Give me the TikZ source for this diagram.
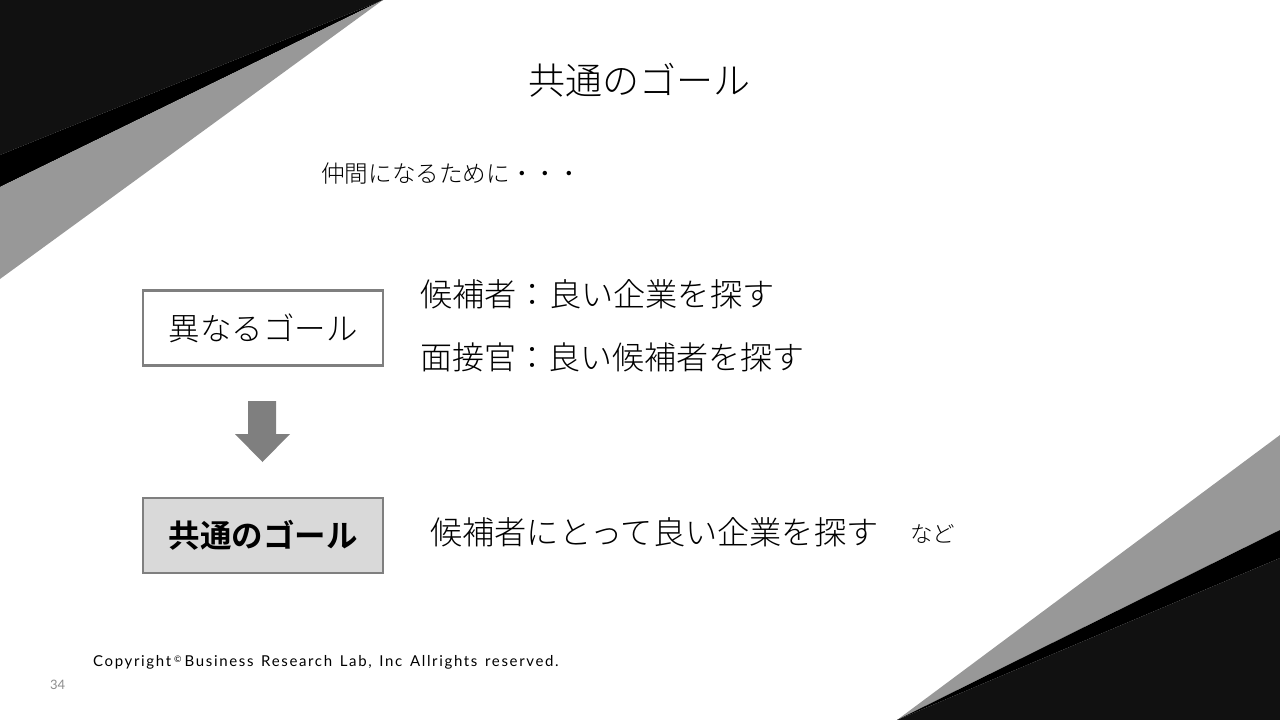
\documentclass[tikz,border=0pt]{standalone}
\usepackage{fontspec}
\IfFontExistsTF{Noto Sans CJK JP Light}
  {\setmainfont{Noto Sans CJK JP Light}[BoldFont={Noto Sans CJK JP Bold}]}
  {\setmainfont{Noto Sans CJK JP}[BoldFont={Noto Sans CJK JP Bold}]}
\newfontfamily\latinf{Lato}
\newfontfamily\copyf{Lato}[LetterSpace=11,WordSpace=1.4]
\definecolor{darkbg}{HTML}{111111}
\definecolor{midgray}{HTML}{989898}
\definecolor{boxline}{HTML}{7F7F7F}
\definecolor{boxfill}{HTML}{D9D9D9}
\definecolor{pagenum}{HTML}{8C8C8C}
\begin{document}
\begin{tikzpicture}[x=1pt,y=-1pt,
  goalbox/.style={draw=boxline,line width=2.5pt,minimum width=240pt,minimum height=75pt,inner sep=0pt},
  txt/.style={inner sep=0pt,anchor=west}]
\useasboundingbox (0,0) rectangle (1280,720);
% top-left decoration
\fill[darkbg] (0,0) -- (383,0) -- (0,155) -- cycle;
\fill[black] (383,0) -- (0,155) -- (0,187) -- cycle;
\fill[midgray] (383,0) -- (0,187) -- (0,279) -- cycle;
% bottom-right decoration
\fill[midgray] (897,720) -- (1280,435) -- (1280,530) -- cycle;
\fill[black] (897,720) -- (1280,530) -- (1280,558) -- cycle;
\fill[darkbg] (897,720) -- (1280,558) -- (1280,720) -- cycle;
% title
\node[inner sep=0pt] (title) at (639,80) {\fontsize{37}{42}\selectfont 共通のゴール};
\node[txt] (sub) at (321,174) {\fontsize{23.6}{28}\selectfont 仲間になるために・・・};
% boxes
\node[goalbox,fill=white] (b1) at (263,328) {\fontsize{31.5}{36}\selectfont 異なるゴール};
\node[goalbox,fill=boxfill] (b2) at (263,535.5) {\fontsize{31.5}{36}\selectfont\bfseries 共通のゴール};
% block arrow
\fill[boxline] (248,401) -- (276,401) -- (276,434) -- (290,434) -- (262.5,462) -- (235,434) -- (248,434) -- cycle;
% texts
\node[txt] (t1) at (420,294) {\fontsize{32.2}{36}\selectfont 候補者：良い企業を探す};
\node[txt] (t2) at (420,357) {\fontsize{32}{36}\selectfont 面接官：良い候補者を探す};
\node[txt] (t3) at (430,532) {\fontsize{32.2}{36}\selectfont 候補者にとって良い企業を探す};
\node[txt] (t4) at (910,534) {\fontsize{22.5}{26}\selectfont など};
% footer
\node[txt] (copy) at (93,662) {\copyf\fontsize{15}{17}\selectfont Copyright\hspace{3pt}\raisebox{3.5pt}{\fontsize{9}{9}\selectfont ©}\hspace{3pt}Business Research Lab, Inc Allrights reserved.};
\node[txt,text=pagenum] (pg) at (50,685) {\latinf\fontsize{13}{15}\selectfont 34};
\end{tikzpicture}
\end{document}
